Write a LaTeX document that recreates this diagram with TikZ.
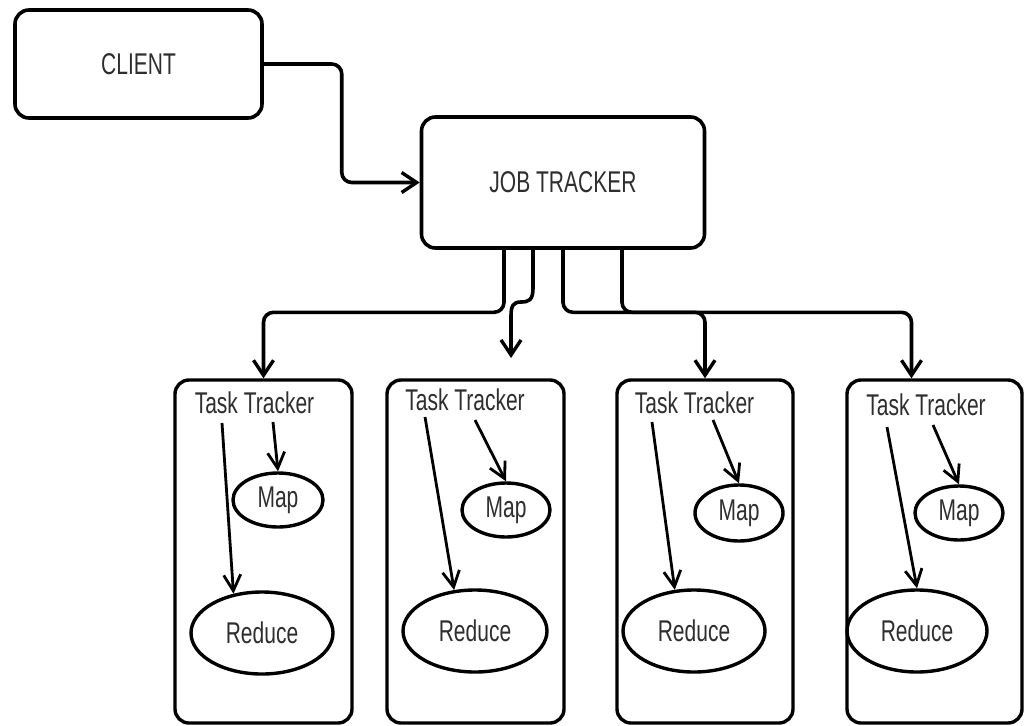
\documentclass[tikz,border=0pt]{standalone}
\usepackage{fontspec}
\setmainfont{Liberation Sans}[FakeStretch=0.70]
\usetikzlibrary{arrows.meta,calc,shapes.geometric}
\begin{document}
\begin{tikzpicture}[x=1pt,y=-1pt,
  every node/.style={font=\fontsize{30}{32}\selectfont, text=black!82},
  bigbox/.style={draw, line width=3.6pt, rounded corners=14pt, inner sep=0pt},
  trackerbox/.style={draw, line width=3.4pt, rounded corners=14pt, minimum height=343pt, inner sep=0pt},
  oval/.style={draw, ellipse, line width=3.4pt, inner sep=0pt},
  lbl/.style={inner sep=0pt},
  conn/.style={line width=3.6pt, -{Straight Barb[length=15pt,width=20pt,line width=3.4pt]}},
  inner/.style={line width=2.8pt, -{Straight Barb[length=16pt,width=17pt,line width=2.8pt]}}
]
\useasboundingbox (0,0) rectangle (1024,725);

% top boxes
\node[bigbox, minimum width=247pt, minimum height=108pt] (client) at (138.5,64) {CLIENT};
\node[bigbox, minimum width=283pt, minimum height=131pt] (job) at (563,182.5) {JOB TRACKER};

% task tracker boxes
\node[trackerbox, minimum width=177pt] (tt1) at (263.5,551.5) {};
\node[trackerbox, minimum width=177pt] (tt2) at (475.5,551.5) {};
\node[trackerbox, minimum width=176pt] (tt3) at (705,551.5) {};
\node[trackerbox, minimum width=175pt] (tt4) at (934.5,551.5) {};

% labels
\node[lbl] (l1) at (254.5,403) {Task Tracker};
\node[lbl] (l2) at (465,400) {Task Tracker};
\node[lbl] (l3) at (694.5,403) {Task Tracker};
\node[lbl] (l4) at (926,405) {Task Tracker};

% map ellipses
\node[oval, minimum width=90pt, minimum height=54pt] (m1) at (278,500) {Map};
\node[oval, minimum width=88pt, minimum height=54pt] (m2) at (506,510) {Map};
\node[oval, minimum width=88pt, minimum height=56pt] (m3) at (739,513) {Map};
\node[oval, minimum width=88pt, minimum height=54pt] (m4) at (959,513) {Map};

% reduce ellipses
\node[oval, minimum width=142pt, minimum height=82pt] (r1) at (262,633) {Reduce};
\node[oval, minimum width=144pt, minimum height=82pt] (r2) at (475,631) {Reduce};
\node[oval, minimum width=142pt, minimum height=82pt] (r3) at (694,631) {Reduce};
\node[oval, minimum width=140pt, minimum height=82pt] (r4) at (917,631) {Reduce};

% client -> job
\draw[conn, rounded corners=10pt] (client.east) -| ($(client.east)!0.5!(job.west)$) |- (job.west);

% job -> task trackers
\coordinate (p2end) at (511,358);
\draw[conn, rounded corners=10pt] ([xshift=-59pt]job.south) |- ([yshift=66pt]tt1.north) -- (tt1.north);
\draw[conn] ([xshift=-30pt]job.south) -- (533,288)
  .. controls (533,300) and (529,302) .. (521,302)
  .. controls (513,302) and (511,306) .. (511,316) -- (p2end);
\draw[conn, rounded corners=10pt] (job.south) |- ([yshift=66pt]tt3.north) -- (tt3.north);
\draw[conn, rounded corners=10pt] ([xshift=59pt]job.south) |- ([yshift=66pt,xshift=-23pt]tt4.north) -- ([xshift=-23pt]tt4.north);

% inner arrows
\draw[inner] ($(l1.center)+(18.5,19)$) -- (m1.north);
\draw[inner] ($(l1.center)+(-32.5,20)$) -- (r1.126);
\draw[inner] ($(l2.center)+(10,20)$) -- (m2.north);
\draw[inner] ($(l2.center)+(-40,17)$) -- (r2.117);
\draw[inner] ($(l3.center)+(18.5,17)$) -- (m3.north);
\draw[inner] ($(l3.center)+(-42.5,19)$) -- (r3.115);
\draw[inner] ($(l4.center)+(7,20)$) -- (m4.north);
\draw[inner] ($(l4.center)+(-39,22)$) -- (r4.north);
\end{tikzpicture}
\end{document}
